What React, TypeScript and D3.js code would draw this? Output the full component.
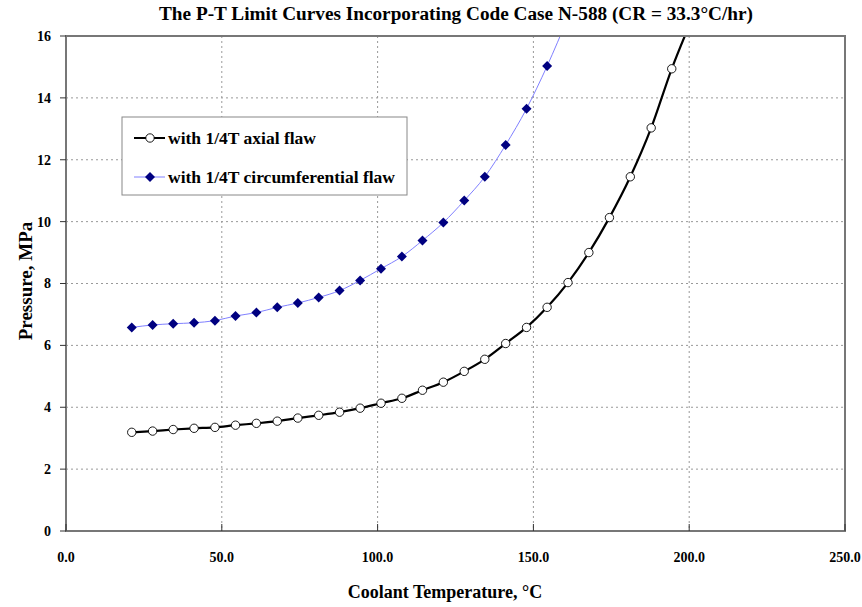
import React from "react";
import * as d3 from "d3";

// coolant temperature, degC (same points for both curves)
const tempAxial = [
  21.1, 27.8, 34.4, 41.1, 47.8, 54.4, 61.1, 67.8, 74.4, 81.1, 87.8, 94.4, 101.1, 107.8,
  114.4, 121.1, 127.8, 134.4, 141.1, 147.8, 154.4, 161.1, 167.8, 174.4, 181.1, 187.8, 194.4, 201.1,
];
const pressAxial = [
  3.19, 3.23, 3.28, 3.32, 3.35, 3.42, 3.48, 3.55, 3.65, 3.74, 3.84, 3.97, 4.13, 4.29,
  4.55, 4.81, 5.16, 5.55, 6.06, 6.58, 7.23, 8.03, 9.0, 10.13, 11.45, 13.03, 14.94, 16.6,
];

const tempCirc = [
  21.1, 27.8, 34.4, 41.1, 47.8, 54.4, 61.1, 67.8, 74.4, 81.1, 87.8, 94.4, 101.1, 107.8,
  114.4, 121.1, 127.8, 134.4, 141.1, 147.8, 154.4, 161.1,
];
const pressCirc = [
  6.58, 6.66, 6.7, 6.73, 6.8, 6.95, 7.06, 7.23, 7.37, 7.55, 7.77, 8.1, 8.48, 8.87,
  9.39, 9.97, 10.68, 11.45, 12.48, 13.65, 15.03, 16.6,
];

const xTicks = [0, 50, 100, 150, 200, 250];
const yTicks = [0, 2, 4, 6, 8, 10, 12, 14, 16];

const seriesNames = ["with 1/4T axial flaw", "with 1/4T circumferential flaw"];

const W = 862;
const H = 607;
const font = '"Liberation Serif", "Times New Roman", Times, serif';

export default function App() {
  const left = 66, right = 845, top = 36, bottom = 531;

  const x = d3.scaleLinear().domain([0, 250]).range([left, right]);
  const y = d3.scaleLinear().domain([0, 16]).range([bottom, top]);

  const line = d3
    .line<[number, number]>()
    .x((d) => x(d[0]))
    .y((d) => y(d[1]))
    .curve(d3.curveMonotoneX);

  const axial: [number, number][] = tempAxial.map((t, i) => [t, pressAxial[i]]);
  const circ: [number, number][] = tempCirc.map((t, i) => [t, pressCirc[i]]);
  const inRange = (d: [number, number]) => d[1] <= 16;

  const diamond = (cx: number, cy: number, r: number) =>
    `M${cx},${cy - r}L${cx + r},${cy}L${cx},${cy + r}L${cx - r},${cy}Z`;

  return (
    <svg width={W} height={H} style={{ position: "absolute", left: 0, top: 0, fontFamily: font }}>
      <defs>
        <clipPath id="plot">
          <rect x={left} y={top} width={right - left} height={bottom - top} />
        </clipPath>
      </defs>
      <rect width={W} height={H} fill="white" />

      {/* title */}
      <text
        x={456}
        y={20}
        textAnchor="middle"
        fontSize={18}
        fontWeight="bold"
        textLength={594}
        lengthAdjust="spacingAndGlyphs"
      >
        The P-T Limit Curves Incorporating Code Case N-588 (CR = 33.3°C/hr)
      </text>

      {/* grid */}
      {yTicks.slice(1, -1).map((t) => (
        <line key={"gy" + t} x1={left} x2={right} y1={y(t)} y2={y(t)} stroke="#999" strokeWidth={1} strokeDasharray="2,3" />
      ))}
      {xTicks.slice(1, -1).map((t) => (
        <line key={"gx" + t} x1={x(t)} x2={x(t)} y1={top} y2={bottom} stroke="#999" strokeWidth={1} strokeDasharray="2,3" />
      ))}

      {/* curves */}
      <g clipPath="url(#plot)">
        <path d={line(circ) ?? ""} fill="none" stroke="#8080ff" strokeWidth={1} />
        <path d={line(axial) ?? ""} fill="none" stroke="#000" strokeWidth={2.2} />
        {circ.filter(inRange).map((d, i) => (
          <path key={"c" + i} d={diamond(x(d[0]), y(d[1]), 5)} fill="#000080" />
        ))}
        {axial.filter(inRange).map((d, i) => (
          <circle key={"a" + i} cx={x(d[0])} cy={y(d[1])} r={4.2} fill="white" stroke="#000" strokeWidth={0.9} />
        ))}
      </g>

      {/* frame */}
      <rect x={left} y={top} width={right - left} height={bottom - top} fill="none" stroke="#777" strokeWidth={2} />

      {/* y axis */}
      {yTicks.map((t) => (
        <g key={"y" + t}>
          <line x1={left - 6} x2={left} y1={y(t)} y2={y(t)} stroke="#333" strokeWidth={1} />
          <text x={51} y={y(t)} dy="0.35em" textAnchor="end" fontSize={14} fontWeight="bold">
            {t}
          </text>
        </g>
      ))}

      {/* x axis */}
      {xTicks.map((t) => (
        <g key={"x" + t}>
          <line x1={x(t)} x2={x(t)} y1={bottom} y2={bottom - 7} stroke="#333" strokeWidth={1} />
          <text x={x(t)} y={bottom + 26} dy="0.35em" textAnchor="middle" fontSize={14} fontWeight="bold">
            {t.toFixed(1)}
          </text>
        </g>
      ))}

      <text x={445} y={592} dy="0.35em" textAnchor="middle" fontSize={18} fontWeight="bold">
        Coolant Temperature, °C
      </text>
      <text
        transform={`translate(25, 281) rotate(-90)`}
        textAnchor="middle"
        dy="0.35em"
        fontSize={19}
        fontWeight="bold"
      >
        Pressure, MPa
      </text>

      {/* legend */}
      <g>
        <rect x={122} y={117} width={285} height={78} fill="white" stroke="#888" strokeWidth={1} />
        <line x1={134} x2={165} y1={138} y2={138} stroke="#000" strokeWidth={2} />
        <circle cx={150} cy={138} r={4.2} fill="white" stroke="#000" strokeWidth={0.9} />
        <text x={168} y={138} dy="0.35em" fontSize={17.5} fontWeight="bold">
          {seriesNames[0]}
        </text>
        <line x1={134} x2={165} y1={177} y2={177} stroke="#8080ff" strokeWidth={1} />
        <path d={diamond(150, 177, 5)} fill="#000080" />
        <text x={168} y={177} dy="0.35em" fontSize={17.5} fontWeight="bold">
          {seriesNames[1]}
        </text>
      </g>
    </svg>
  );
}
